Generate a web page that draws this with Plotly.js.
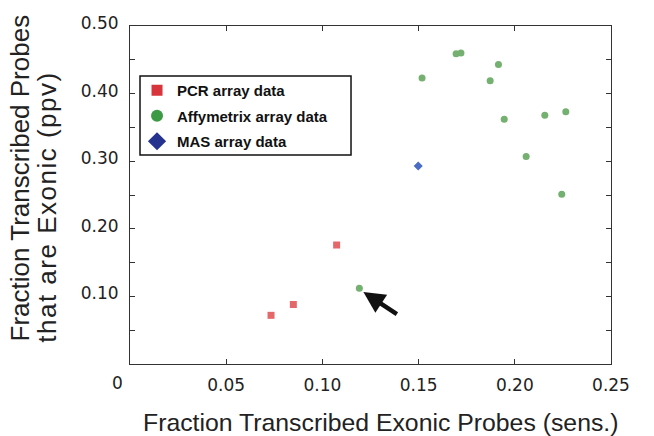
<!DOCTYPE html>
<html>
<head>
<meta charset="utf-8">
<script src="https://cdn.plot.ly/plotly-3.0.1.min.js"></script>
<style>
html,body{margin:0;padding:0;background:#fff;}
#chart{width:654px;height:436px;}
#chart g.annotation[data-index="3"] text.annotation-text{letter-spacing:1.5px;}
</style>
</head>
<body>
<div id="chart"></div>
<script>
// PCR array data
const pcrX = [0.0733, 0.0849, 0.1074];
const pcrY = [0.072, 0.088, 0.176];
// Affymetrix array data
const affyX = [0.1695, 0.1720, 0.1915, 0.1518, 0.1872, 0.1945, 0.2156, 0.2265, 0.2059, 0.2244, 0.1192];
const affyY = [0.459, 0.460, 0.443, 0.423, 0.419, 0.362, 0.368, 0.373, 0.307, 0.251, 0.112];
// MAS array data
const masX = [0.1498];
const masY = [0.293];

const xTickVals = [0.05, 0.10, 0.15, 0.20, 0.25];
const xTickText = ['0.05', '0.10', '0.15', '0.20', '0.25'];
const yTickVals = [0.05, 0.10, 0.15, 0.20, 0.25, 0.30, 0.35, 0.40, 0.45, 0.50];
const yTickText = ['', '0.10', '', '0.20', '', '0.30', '', '0.40', '', '0.50'];

const legendNames = ['PCR array data', 'Affymetrix array data', 'MAS array data'];

const traces = [
  {x: pcrX, y: pcrY, type: 'scatter', mode: 'markers', showlegend: false,
   marker: {symbol: 'square', size: 7, color: '#e4686a'}},
  {x: affyX, y: affyY, type: 'scatter', mode: 'markers', showlegend: false,
   marker: {symbol: 'circle', size: 7, color: '#74b06f'}},
  {x: masX, y: masY, type: 'scatter', mode: 'markers', showlegend: false,
   marker: {symbol: 'diamond', size: 7, color: '#4a6cc4'}},
  {x: [null], y: [null], type: 'scatter', mode: 'markers', name: legendNames[0], legendgroup: 'a',
   marker: {symbol: 'square', size: 11, color: '#d8343c'}},
  {x: [null], y: [null], type: 'scatter', mode: 'markers', name: legendNames[1], legendgroup: 'b',
   marker: {symbol: 'circle', size: 12, color: '#3c9a44'}},
  {x: [null], y: [null], type: 'scatter', mode: 'markers', name: legendNames[2], legendgroup: 'c',
   marker: {symbol: 'diamond', size: 14, color: '#25338e'}}
];

const axisCommon = {
  showgrid: false, zeroline: false, showline: true, linecolor: '#333', linewidth: 1,
  mirror: 'ticks', ticks: 'inside', ticklen: 5, tickcolor: '#333', tickwidth: 1,
  tickmode: 'array',
  tickfont: {family: 'DejaVu Sans', size: 17, color: '#222'}
};

const titleFont = {family: 'Liberation Sans, Arial', size: 25, color: '#222'};

const layout = {
  width: 654, height: 436,
  margin: {l: 130, r: 43, t: 26, b: 72},
  paper_bgcolor: '#ffffff', plot_bgcolor: '#ffffff',
  xaxis: Object.assign({}, axisCommon, {
    range: [0, 0.25], tickvals: xTickVals, ticktext: xTickText, ticklabelstandoff: 6
  }),
  yaxis: Object.assign({}, axisCommon, {
    range: [0, 0.5], tickvals: yTickVals, ticktext: yTickText, ticklabelstandoff: 7, ticklabelshift: -3
  }),
  showlegend: true,
  legend: {
    x: 0.0146, y: 0.858, xanchor: 'left', yanchor: 'top',
    borderwidth: 0, bgcolor: 'rgba(0,0,0,0)',
    font: {family: 'Liberation Sans, Arial', size: 15, color: '#111', weight: 'bold'},
    tracegroupgap: 3
  },
  shapes: [
    {type: 'rect', xref: 'paper', yref: 'paper', x0: 0.0208, x1: 0.4595, y0: 0.6183, y1: 0.852,
     line: {color: '#111', width: 1.5}, fillcolor: 'rgba(0,0,0,0)', layer: 'above'}
  ],
  annotations: [
    {xref: 'paper', yref: 'paper', x: 0, y: 0, xshift: -13, yshift: -19, xanchor: 'center', yanchor: 'middle',
     showarrow: false, text: '0', font: {family: 'DejaVu Sans', size: 17, color: '#222'}},
    {xref: 'paper', yref: 'paper', x: 0.5218, y: -0.1745, xanchor: 'center', yanchor: 'middle',
     showarrow: false, text: 'Fraction Transcribed Exonic Probes (sens.)',
     font: Object.assign({}, titleFont, {size: 24.8})},
    {xref: 'paper', yref: 'paper', x: 0, y: 0.549, xshift: -110, xanchor: 'center', yanchor: 'middle',
     textangle: -90, showarrow: false, text: 'Fraction Transcribed Probes',
     font: Object.assign({}, titleFont, {size: 26})},
    {xref: 'paper', yref: 'paper', x: 0, y: 0.4645, xshift: -83, xanchor: 'center', yanchor: 'middle',
     textangle: -90, showarrow: false, text: 'that are Exonic (ppv)',
     font: Object.assign({}, titleFont, {size: 26})},
    {x: 0.1213, y: 0.1065, ax: 35, ay: 23, showarrow: true, text: '',
     arrowhead: 2, arrowsize: 0.95, arrowwidth: 4.5, arrowcolor: '#111'}
  ]
};

Plotly.newPlot('chart', traces, layout, {displayModeBar: false, staticPlot: true});
</script>
</body>
</html>
